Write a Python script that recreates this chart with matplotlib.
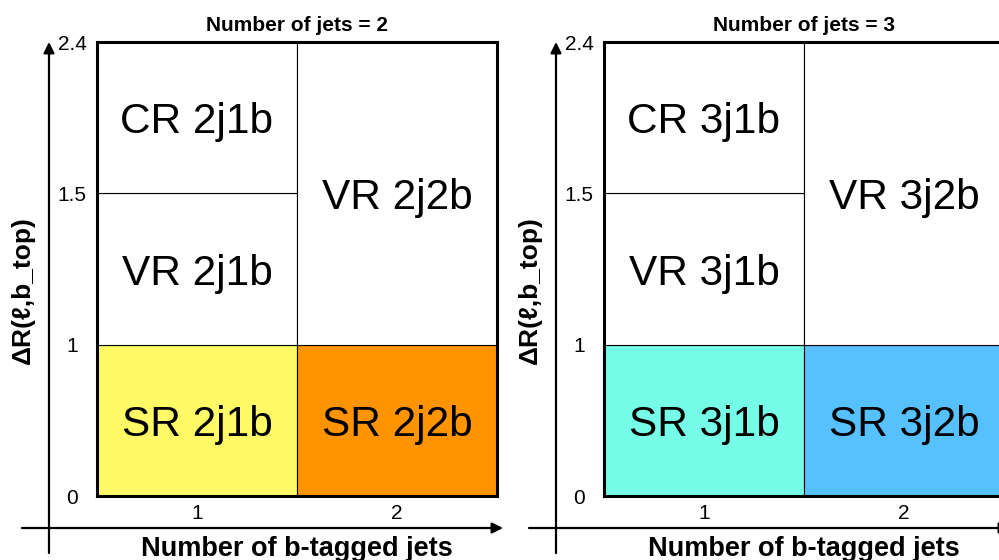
import matplotlib.pyplot as plt

plt.rcParams['font.family'] = ['Liberation Sans', 'DejaVu Sans']

# region definitions: b-tag multiplicity bins and dR boundaries
btag_bins = [1, 2]
dr_edges = [0, 1, 1.5, 2.4]          # drawn on an index scale (not to scale)
dr_labels = ['0', '1', '1.5', '2.4']

# per jet multiplicity: (name, b-tag bin, dR low, dR high)
njets = [2, 3]
region_names = ['SR', 'VR', 'CR', 'SR', 'VR']
region_btag = [1, 1, 1, 2, 2]
region_lo = [0, 1, 1.5, 0, 1]
region_hi = [1, 1.5, 2.4, 1, 2.4]
sr_colors = {2: ['#fffa66', '#ff9300'], 3: ['#76fde8', '#57c0ff']}


def idx(v):
    return dr_edges.index(v)


fig = plt.figure(figsize=(9.99, 5.6), dpi=100)
lefts = [97 / 999, 604 / 999]

for nj, left in zip(njets, lefts):
    ax = fig.add_axes([left, 64 / 560, 400 / 999, 454 / 560])
    for name, b, lo, hi in zip(region_names, region_btag, region_lo, region_hi):
        if name == 'SR':
            col = sr_colors[nj][b - 1]
        else:
            col = 'white'
        y0, y1 = idx(lo), idx(hi)
        ax.bar(b, y1 - y0, bottom=y0, width=1, color=col,
               edgecolor='black', linewidth=0.8)
        ax.text(b, (y0 + y1) / 2, f'{name} {nj}j{b}b', ha='center',
                va='center_baseline', fontsize=30.5)

    ax.set_xlim(0.5, 2.5)
    ax.set_ylim(0, len(dr_edges) - 1)
    ax.set_xticks(btag_bins)
    ax.set_xticklabels([str(b) for b in btag_bins])
    ax.set_yticks(range(len(dr_edges)))
    ax.set_yticklabels(dr_labels)
    ax.tick_params(axis='both', length=0, labelsize=15)
    ax.tick_params(axis='y', pad=18)
    ax.tick_params(axis='x', pad=6)
    for lab in ax.get_yticklabels():
        lab.set_ha('center')
    for sp in ax.spines.values():
        sp.set_linewidth(2.2)

    ax.set_title(f'Number of jets = {nj}', fontsize=15, fontweight='bold', pad=8)
    ax.text(0.5, -0.132, 'Number of b-tagged jets', transform=ax.transAxes,
            ha='center', va='baseline', fontsize=19.5, fontweight='bold')
    ax.text(-0.185, 0.4537, 'ΔR(ℓ,b_top)', transform=ax.transAxes,
            ha='center', va='center', rotation=90, fontsize=19,
            fontweight='bold')

    # hand-drawn style axis arrows
    arrow = dict(arrowstyle='-|>', lw=1.6, color='black', mutation_scale=16,
                 shrinkA=0, shrinkB=0)
    ax.annotate('', xy=(-0.12, 1.0), xytext=(-0.12, -0.1256),
                xycoords='axes fraction', textcoords='axes fraction',
                arrowprops=arrow, annotation_clip=False)
    ax.annotate('', xy=(1.015, -0.0705), xytext=(-0.1875, -0.0705),
                xycoords='axes fraction', textcoords='axes fraction',
                arrowprops=arrow, annotation_clip=False)

fig.savefig('out.png', dpi=100)
